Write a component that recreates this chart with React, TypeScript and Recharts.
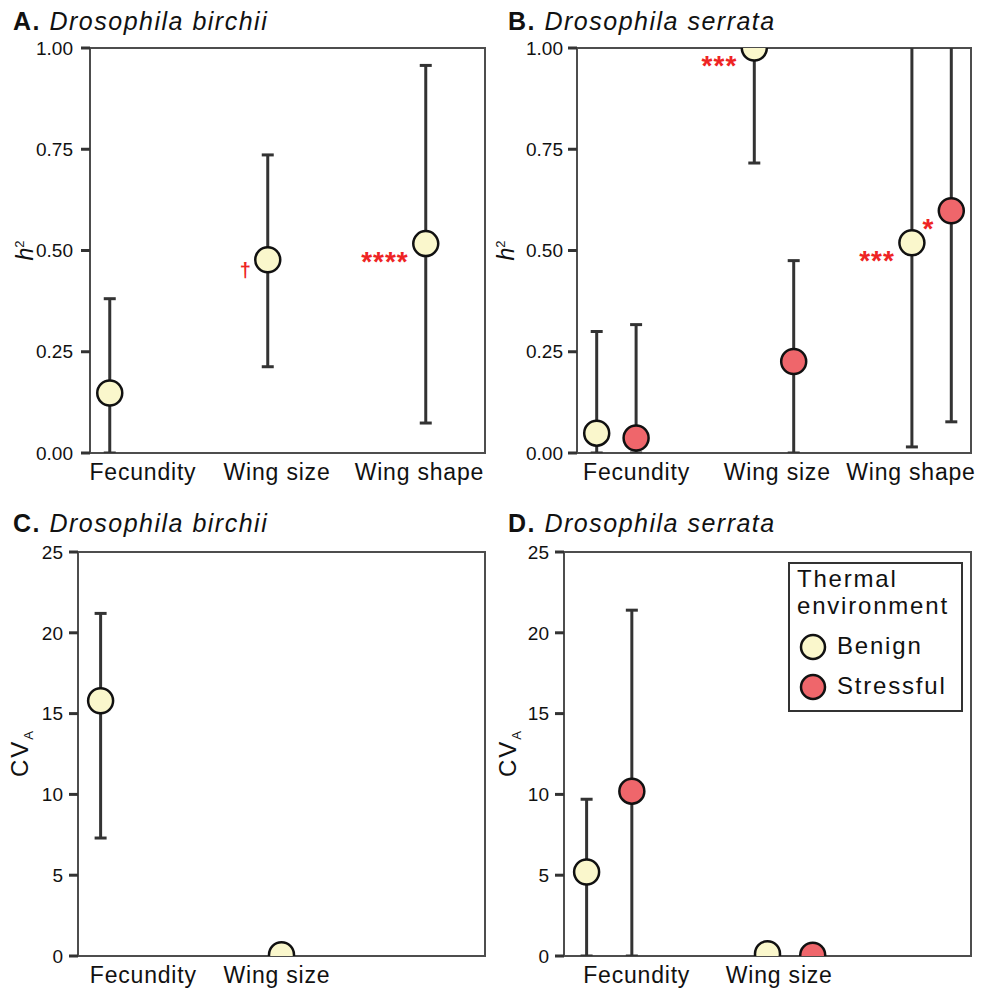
import React from 'react';
import { ScatterChart, Scatter, XAxis, YAxis, ErrorBar, ReferenceArea, Legend } from 'recharts';

const traitsH2 = ['Fecundity', 'Wing size', 'Wing shape'];
const traitsCV = ['Fecundity', 'Wing size'];
const traitPosH2 = [1, 2, 3];
const traitPosCV = [1, 2];

// where the trait names sit under each panel (axis units)
const tickPosA = [1.085, 1.934, 2.835];
const tickPosB = [1.128, 2.021, 2.869];
const tickPosC = [1.111, 1.85];
const tickPosD = [1.152, 1.94];

const h2Ticks = [0, 0.25, 0.5, 0.75, 1];
const cvTicks = [0, 5, 10, 15, 20, 25];

// A. D. birchii, h2 (benign only)
const birchiiH2 = [0.148, 0.477, 0.517];
const birchiiH2Lo = [0, 0.213, 0.074];
const birchiiH2Hi = [0.381, 0.736, 0.957];
const birchiiH2Sig = ['', '†', '****'];

// B. D. serrata, h2 (upper limits past 1 run off the panel)
const serrataH2Benign = [0.049, 1.0, 0.519];
const serrataH2BenignLo = [0, 0.716, 0.015];
const serrataH2BenignHi = [0.3, 1.15, 1.15];
const serrataH2BenignSig = ['', '***', '***'];
const serrataH2Stress = [0.037, 0.226, 0.598];
const serrataH2StressLo = [0, 0, 0.077];
const serrataH2StressHi = [0.317, 0.475, 1.15];
const serrataH2StressSig = ['', '', '*'];

// C. D. birchii, CVA
const birchiiCV = [15.8, 0.08];
const birchiiCVLo = [7.3, 0];
const birchiiCVHi = [21.2, 0.15];

// D. D. serrata, CVA
const serrataCVBenign = [5.2, 0.14];
const serrataCVBenignLo = [0, 0];
const serrataCVBenignHi = [9.7, 0.25];
const serrataCVStress = [10.2, 0.05];
const serrataCVStressLo = [0, 0];
const serrataCVStressHi = [21.4, 0.12];

const BENIGN = '#faf7cc';
const STRESS = '#ef666b';
const SIG_RED = '#ee2424';
const DODGE = 0.125;
const FONT = '"Liberation Sans", Arial, Helvetica, sans-serif';

const build = (pos: number[], vals: number[], lo: number[], hi: number[], shift: number, sig?: string[]) =>
  vals.map((v, i) => ({
    x: pos[i] + shift,
    y: v,
    err: [v - lo[i], hi[i] - v],
    sig: sig ? sig[i] : '',
  }));

const makeDot = (fill: string) => (props: any) => {
  const { cx, cy, payload } = props;
  const sig = payload && payload.sig;
  const dagger = sig === '†';
  return (
    <g>
      <circle cx={cx} cy={cy} r={12.5} fill={fill} stroke="#111" strokeWidth={2.5} />
      {sig ? (
        <text
          x={cx - 17}
          y={cy + (dagger ? 17 : 27)}
          textAnchor="end"
          fill={SIG_RED}
          fontSize={dagger ? 20 : 28}
          fontWeight="bold"
          letterSpacing={dagger ? 0 : 1}
        >
          {sig}
        </text>
      ) : null}
    </g>
  );
};

const xTick = (labels: string[]) => (props: any) => {
  const { x, y, index } = props;
  return (
    <text x={x} y={y + 27} textAnchor="middle" fontSize={23} letterSpacing={0.8} fill="#111">
      {labels[index]}
    </text>
  );
};

const h2Title = (dx: number) => (props: any) => {
  const vb = props.viewBox || { x: 0, y: 0, height: 0 };
  const x = vb.x + dx;
  const y = vb.y + vb.height / 2;
  return (
    <text x={x} y={y} transform={`rotate(-90, ${x}, ${y})`} textAnchor="middle" fill="#111" fontSize={23}>
      <tspan fontStyle="italic">h</tspan>
      <tspan fontSize={13} dy={-9}>2</tspan>
    </text>
  );
};

const cvTitle = (dx: number) => (props: any) => {
  const vb = props.viewBox || { x: 0, y: 0, height: 0 };
  const x = vb.x + dx;
  const y = vb.y + vb.height / 2;
  return (
    <text x={x} y={y} transform={`rotate(-90, ${x}, ${y})`} textAnchor="middle" fill="#111" fontSize={24} letterSpacing={2}>
      CV
      <tspan fontSize={13} dy={5} letterSpacing={0}>A</tspan>
    </text>
  );
};

const LegendBox = () => (
  <svg width={175} height={150} style={{ display: 'block', fontFamily: FONT }}>
    <rect x={1} y={1} width={173} height={148} fill="#fff" stroke="#333" strokeWidth={2} />
    <text x={9} y={25} fontSize={24} letterSpacing={1.8} fill="#111">Thermal</text>
    <text x={9} y={52} fontSize={24} letterSpacing={1.8} fill="#111">environment</text>
    <circle cx={25} cy={85} r={12} fill={BENIGN} stroke="#111" strokeWidth={2.5} />
    <text x={49} y={92} fontSize={24} letterSpacing={1.8} fill="#111">Benign</text>
    <circle cx={25} cy={125} r={12} fill={STRESS} stroke="#111" strokeWidth={2.5} />
    <text x={49} y={132} fontSize={24} letterSpacing={1.8} fill="#111">Stressful</text>
  </svg>
);

type Series = { data: any[]; fill: string; name: string };

type PanelProps = {
  id: string;
  left: number;
  top: number;
  height: number;
  margin: { top: number; right: number; bottom: number; left: number };
  yWidth: number;
  xHeight: number;
  xDomain: [number, number];
  xTicks: number[];
  xLabels: string[];
  yDomain: [number, number];
  yTicks: number[];
  yFmt?: (v: number) => string;
  yTickMargin: number;
  yTitle: (props: any) => any;
  series: Series[];
  legend?: boolean;
};

const WIDTH = 491;

function Panel(p: PanelProps) {
  // plot area, used to keep points and whiskers inside the frame
  const px = p.margin.left + p.yWidth;
  const py = p.margin.top;
  const pw = WIDTH - px - p.margin.right;
  const ph = p.height - p.margin.top - p.margin.bottom - p.xHeight;
  const clipId = `clip-${p.id}`;
  return (
    <div className={`panel-${p.id}`} style={{ position: 'absolute', left: p.left, top: p.top }}>
      <style>{`.panel-${p.id} .recharts-scatter-symbol, .panel-${p.id} .recharts-errorBar { clip-path: url(#${clipId}); }`}</style>
      <svg width={0} height={0} style={{ position: 'absolute' }}>
        <defs>
          <clipPath id={clipId} clipPathUnits="userSpaceOnUse">
            <rect x={px} y={py} width={pw} height={ph} />
          </clipPath>
        </defs>
      </svg>
      <ScatterChart width={WIDTH} height={p.height} margin={p.margin}>
        <ReferenceArea
          x1={p.xDomain[0]}
          x2={p.xDomain[1]}
          y1={p.yDomain[0]}
          y2={p.yDomain[1]}
          fill="none"
          fillOpacity={0}
          stroke="#4d4d4d"
          strokeWidth={2}
          ifOverflow="visible"
        />
        <XAxis
          type="number"
          dataKey="x"
          domain={p.xDomain}
          ticks={p.xTicks}
          interval={0}
          allowDataOverflow
          axisLine={false}
          tickLine={false}
          tickSize={0}
          tickMargin={0}
          height={p.xHeight}
          tick={xTick(p.xLabels)}
        />
        <YAxis
          type="number"
          dataKey="y"
          domain={p.yDomain}
          ticks={p.yTicks}
          interval={0}
          allowDataOverflow
          axisLine={false}
          stroke="#333"
          tickLine={{ stroke: '#333', strokeWidth: 3 }}
          tickSize={9}
          tickMargin={p.yTickMargin}
          width={p.yWidth}
          tick={{ fontSize: 19, fill: '#111' }}
          tickFormatter={p.yFmt}
          label={p.yTitle}
        />
        {p.series.map((s) => (
          <Scatter key={s.name} name={s.name} data={s.data} fill={s.fill} shape={makeDot(s.fill)} isAnimationActive={false}>
            <ErrorBar dataKey="err" direction="y" width={6} stroke="#333" strokeWidth={3} isAnimationActive={false} />
          </Scatter>
        ))}
        {p.legend ? (
          <Legend
            layout="horizontal"
            align="center"
            verticalAlign="middle"
            wrapperStyle={{ left: 297, top: 62, width: 175, height: 150 }}
            content={() => <LegendBox />}
          />
        ) : null}
      </ScatterChart>
    </div>
  );
}

const Title = ({ left, top, letter, species }: { left: number; top: number; letter: string; species: string }) => (
  <div
    style={{
      position: 'absolute',
      left,
      top,
      fontSize: 25,
      lineHeight: '25px',
      letterSpacing: 1.5,
      color: '#111',
      whiteSpace: 'nowrap',
    }}
  >
    <b>{letter}</b> <i>{species}</i>
  </div>
);

const fmt2 = (v: number) => v.toFixed(2);

export default function App() {
  const aData = build(traitPosH2, birchiiH2, birchiiH2Lo, birchiiH2Hi, -DODGE, birchiiH2Sig);
  const bBenign = build(traitPosH2, serrataH2Benign, serrataH2BenignLo, serrataH2BenignHi, -DODGE, serrataH2BenignSig);
  const bStress = build(traitPosH2, serrataH2Stress, serrataH2StressLo, serrataH2StressHi, DODGE, serrataH2StressSig);
  const cData = build(traitPosCV, birchiiCV, birchiiCVLo, birchiiCVHi, -DODGE);
  const dBenign = build(traitPosCV, serrataCVBenign, serrataCVBenignLo, serrataCVBenignHi, -DODGE);
  const dStress = build(traitPosCV, serrataCVStress, serrataCVStressLo, serrataCVStressHi, DODGE);

  return (
    <div
      style={{
        position: 'absolute',
        left: 0,
        top: 0,
        width: 982,
        height: 992,
        background: '#fff',
        fontFamily: FONT,
        overflow: 'hidden',
      }}
    >
      <Title left={13} top={9} letter="A." species="Drosophila birchii" />
      <Title left={508} top={9} letter="B." species="Drosophila serrata" />
      <Title left={13} top={511} letter="C." species="Drosophila birchii" />
      <Title left={508} top={511} letter="D." species="Drosophila serrata" />

      <Panel
        id="a"
        left={0}
        top={0}
        height={500}
        margin={{ top: 48, right: 6, bottom: 7, left: 0 }}
        yWidth={90}
        xHeight={40}
        xDomain={[0.75, 3.25]}
        xTicks={tickPosA}
        xLabels={traitsH2}
        yDomain={[0, 1]}
        yTicks={h2Ticks}
        yFmt={fmt2}
        yTickMargin={8}
        yTitle={h2Title(33)}
        series={[{ name: 'Benign', fill: BENIGN, data: aData }]}
      />
      <Panel
        id="b"
        left={491}
        top={0}
        height={500}
        margin={{ top: 48, right: 11, bottom: 7, left: 0 }}
        yWidth={86}
        xHeight={40}
        xDomain={[0.75, 3.25]}
        xTicks={tickPosB}
        xLabels={traitsH2}
        yDomain={[0, 1]}
        yTicks={h2Ticks}
        yFmt={fmt2}
        yTickMargin={5}
        yTitle={h2Title(23)}
        series={[
          { name: 'Benign', fill: BENIGN, data: bBenign },
          { name: 'Stressful', fill: STRESS, data: bStress },
        ]}
      />
      <Panel
        id="c"
        left={0}
        top={500}
        height={492}
        margin={{ top: 52, right: 6, bottom: 0, left: 0 }}
        yWidth={78}
        xHeight={36}
        xDomain={[0.75, 3.0]}
        xTicks={tickPosC}
        xLabels={traitsCV}
        yDomain={[0, 25]}
        yTicks={cvTicks}
        yTickMargin={6}
        yTitle={cvTitle(28)}
        series={[{ name: 'Benign', fill: BENIGN, data: cData }]}
      />
      <Panel
        id="d"
        left={491}
        top={500}
        height={492}
        margin={{ top: 52, right: 11, bottom: 0, left: 0 }}
        yWidth={73}
        xHeight={36}
        xDomain={[0.75, 3.0]}
        xTicks={tickPosD}
        xLabels={traitsCV}
        yDomain={[0, 25]}
        yTicks={cvTicks}
        yTickMargin={6}
        yTitle={cvTitle(25)}
        series={[
          { name: 'Benign', fill: BENIGN, data: dBenign },
          { name: 'Stressful', fill: STRESS, data: dStress },
        ]}
        legend
      />
    </div>
  );
}
